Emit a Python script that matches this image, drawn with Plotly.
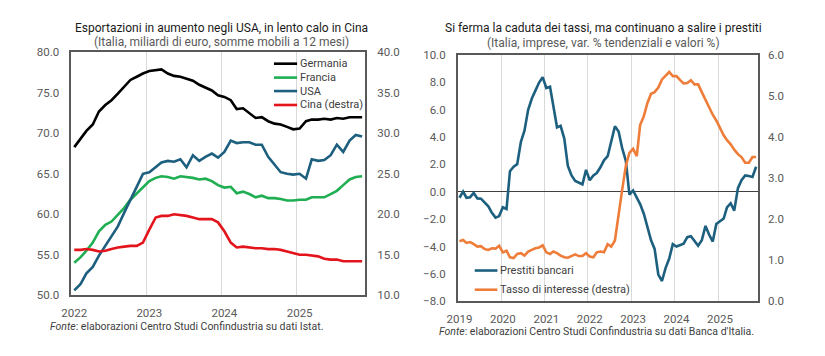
import pandas as pd
import plotly.graph_objects as go

# ---------------- data: left chart (monthly, Jan 2022 - Nov 2025) ----------------
left_start = "2022-01-01"
germania = [68.3, 69.3, 70.3, 71.1, 72.7, 73.5, 74.1, 74.9, 75.8, 76.6,
            77.0, 77.4, 77.7, 77.8, 77.9, 77.4, 77.1, 77.0, 76.8, 76.5,
            76.0, 75.7, 75.3, 74.7, 74.5, 74.1, 73.0, 73.1, 72.5, 71.9,
            72.0, 71.5, 71.2, 71.1, 70.8, 70.5, 70.6, 71.5, 71.7, 71.7,
            71.8, 71.7, 71.9, 71.8, 72.0, 72.0, 72.0]
francia = [54.0, 54.7, 55.5, 56.5, 57.9, 58.7, 59.1, 59.9, 60.8, 61.8,
           62.6, 63.4, 64.1, 64.5, 64.7, 64.6, 64.4, 64.7, 64.6, 64.5,
           64.3, 64.4, 64.1, 63.6, 63.3, 63.4, 62.6, 62.8, 62.5, 62.1,
           62.3, 62.0, 62.0, 61.9, 61.7, 61.7, 61.8, 61.8, 62.1, 62.1,
           62.1, 62.5, 62.9, 63.6, 64.3, 64.6, 64.7]
usa = [50.6, 51.4, 52.7, 53.5, 54.9, 56.1, 57.3, 58.5, 60.2, 61.8,
       63.4, 65.0, 65.2, 65.8, 66.4, 66.6, 66.5, 66.8, 65.8, 67.3,
       66.6, 67.1, 67.5, 67.0, 67.7, 69.1, 68.8, 68.9, 68.9, 68.6,
       68.6, 67.1, 66.2, 65.2, 65.0, 64.9, 65.0, 64.4, 66.8, 66.6,
       66.7, 67.3, 68.6, 67.7, 69.1, 69.8, 69.6]
cina = [15.6, 15.6, 15.7, 15.6, 15.4, 15.5, 15.7, 15.9, 16.0, 16.1,
        16.1, 16.5, 18.1, 19.6, 19.8, 19.8, 20.0, 19.9, 19.8, 19.6,
        19.4, 19.4, 19.4, 19.0, 17.9, 16.5, 15.9, 16.0, 15.9, 15.8,
        15.8, 15.7, 15.7, 15.6, 15.4, 15.2, 15.0, 15.0, 14.9, 14.8,
        14.5, 14.4, 14.4, 14.2, 14.2, 14.2, 14.2]
left_years = ["2022", "2023", "2024", "2025"]

# ---------------- data: right chart (monthly, Jan 2019 - Nov 2025) ----------------
right_start = "2019-01-01"
prestiti = [-0.44, 0.0, -0.44, -0.40, -0.09, -0.49, -0.51, -0.79, -1.07, -1.54,
            -1.89, -1.78, -1.14, -1.26, 1.50, 1.82, 2.01, 3.64, 4.46, 5.98,
            6.80, 7.38, 7.97, 8.36, 7.57, 7.66, 6.33, 4.70, 4.81, 3.88,
            1.89, 1.19, 0.79, 0.68, 0.54, 1.59, 0.84, 1.19, 1.36, 1.78,
            2.29, 2.59, 3.76, 4.77, 4.39, 3.18, 2.24, -0.21, 0.09, -0.44,
            -0.91, -1.61, -2.55, -3.55, -4.18, -6.05, -6.52, -5.58, -4.88, -3.83,
            -4.00, -3.90, -3.79, -3.32, -3.25, -3.60, -3.95, -3.55, -2.50, -3.13,
            -3.64, -2.36, -2.13, -1.96, -1.14, -0.84, -1.38, 0.26, 0.84, 1.19,
            1.14, 1.07, 1.82]
tasso = [1.46, 1.49, 1.42, 1.44, 1.39, 1.33, 1.34, 1.27, 1.25, 1.29,
         1.28, 1.35, 1.19, 1.23, 1.07, 1.05, 1.15, 1.17, 1.11, 1.21,
         1.25, 1.29, 1.31, 1.36, 1.19, 1.15, 1.21, 1.17, 1.11, 1.07,
         1.06, 1.10, 1.14, 1.10, 1.10, 1.17, 1.09, 1.07, 1.19, 1.21,
         1.19, 1.39, 1.33, 1.48, 2.05, 2.71, 3.30, 3.61, 3.71, 3.53,
         4.29, 4.50, 4.82, 5.05, 5.09, 5.20, 5.40, 5.48, 5.58, 5.48,
         5.48, 5.38, 5.30, 5.31, 5.38, 5.28, 5.28, 5.09, 4.89, 4.70,
         4.54, 4.40, 4.21, 4.04, 3.92, 3.82, 3.69, 3.58, 3.51, 3.37,
         3.37, 3.51, 3.51]
right_years = ["2019", "2020", "2021", "2022", "2023", "2024", "2025"]

# month-centred dates (category centre = mid month)
left_x = pd.date_range(left_start, periods=len(germania), freq="MS") + pd.Timedelta(days=15)
right_x = pd.date_range(right_start, periods=len(prestiti), freq="MS") + pd.Timedelta(days=15)

# ---------------- style ----------------
FONT = "Roboto, 'Noto Sans', sans-serif"
C_GER = "#000000"
C_FRA = "#1fae52"
C_USA = "#1d5f7f"
C_CIN = "#e3141c"
C_PRE = "#1d5f7f"
C_TAS = "#ef7d3a"
TICK_C = "#595959"
BORDER = "#595959"
GRID = "#d9d9d9"
LW = 2.6

W, H = 825, 356
def px(x):
    return x / W
def py(y):
    return 1 - y / H

fig = go.Figure()
fig.add_trace(go.Scatter(x=left_x, y=germania, name="Germania", mode="lines",
                         line=dict(color=C_GER, width=LW), xaxis="x", yaxis="y"))
fig.add_trace(go.Scatter(x=left_x, y=francia, name="Francia", mode="lines",
                         line=dict(color=C_FRA, width=LW), xaxis="x", yaxis="y"))
fig.add_trace(go.Scatter(x=left_x, y=usa, name="USA", mode="lines",
                         line=dict(color=C_USA, width=LW), xaxis="x", yaxis="y"))
fig.add_trace(go.Scatter(x=left_x, y=cina, name="Cina (destra)", mode="lines",
                         line=dict(color=C_CIN, width=LW), xaxis="x", yaxis="y2"))
fig.add_trace(go.Scatter(x=right_x, y=prestiti, name="Prestiti bancari", mode="lines",
                         line=dict(color=C_PRE, width=LW), xaxis="x2", yaxis="y3"))
fig.add_trace(go.Scatter(x=right_x, y=tasso, name="Tasso di interesse (destra)", mode="lines",
                         line=dict(color=C_TAS, width=LW), xaxis="x2", yaxis="y4"))

def xaxis_cfg(domain, anchor, start, years, n, ticklen):
    first = pd.Timestamp(start)
    end = first + pd.DateOffset(months=n)
    return dict(
        domain=domain, anchor=anchor, type="date",
        range=[first, end],
        tickmode="array",
        tickvals=[pd.Timestamp(f"{y}-01-16") for y in years],
        ticktext=years,
        ticks="outside", ticklen=ticklen, tickcolor="rgba(0,0,0,0)",
        showgrid=False, zeroline=False,
        showline=True, mirror=True, linecolor=BORDER, linewidth=1.5,
        tickfont=dict(family=FONT, size=11.5, color=TICK_C),
        minor=dict(tickmode="array",
                   tickvals=[pd.Timestamp(f"{y}-01-01") for y in years[1:]],
                   showgrid=True, gridcolor=GRID, gridwidth=1,
                   ticklen=0, tickcolor="rgba(0,0,0,0)"),
        fixedrange=True,
    )

def yaxis_cfg(domain, anchor, rng, dtick, side, ticklen, overlaying=None):
    d = dict(
        domain=domain, anchor=anchor, range=rng, dtick=dtick, tick0=rng[0],
        tickformat=".1f", side=side,
        ticks="outside", ticklen=ticklen, tickcolor="rgba(0,0,0,0)",
        showgrid=False, zeroline=False,
        showline=True, linecolor=BORDER, linewidth=1.5,
        tickfont=dict(family=FONT, size=11.5, color=TICK_C),
        fixedrange=True,
    )
    if overlaying:
        d["overlaying"] = overlaying
        d.pop("domain")
    return d

L_dom_x = [px(61), px(359)]
L_dom_y = [py(300), py(47.3)]
R_dom_x = [px(452.7), px(757)]
R_dom_y = [py(306.3), py(49.7)]

y3 = yaxis_cfg(R_dom_y, "x2", [-8, 10], 2, "left", 8)
y3.update(zeroline=True, zerolinecolor="#404040", zerolinewidth=1.2)

fig.update_layout(
    autosize=True,
    margin=dict(l=0, r=0, t=0, b=0),
    paper_bgcolor="white", plot_bgcolor="white",
    showlegend=False,
    font=dict(family=FONT, color="#404040"),
    xaxis=xaxis_cfg(L_dom_x, "y", left_start, left_years, len(germania), 6),
    yaxis=yaxis_cfg(L_dom_y, "x", [50, 80], 5, "left", 8),
    yaxis2=yaxis_cfg(None, "x", [10, 40], 5, "right", 8, overlaying="y"),
    xaxis2=xaxis_cfg(R_dom_x, "y3", right_start, right_years, len(prestiti), 6),
    yaxis3=y3,
    yaxis4=yaxis_cfg(None, "x2", [0, 6], 1, "right", 6, overlaying="y3"),
)

ann = []
def text(x, y, s, size, color, xanchor="center"):
    ann.append(dict(x=px(x), y=py(y), xref="paper", yref="paper", text=s,
                    showarrow=False, xanchor=xanchor, yanchor="middle",
                    font=dict(family=FONT, size=size, color=color)))

# titles
text(213, 21.5, "Esportazioni in aumento negli USA, in lento calo in Cina", 12, "#1a1a1a")
text(213.5, 36, "(Italia, miliardi di euro, somme mobili a 12 mesi)", 12, "#595959")
text(600.5, 21.5, "Si ferma la caduta dei tassi, ma continuano a salire i prestiti", 12, "#1a1a1a")
text(601, 37, "(Italia, imprese, var. % tendenziali e valori %)", 12, "#595959")

# sources
text(38, 333, "<i>Fonte</i>: elaborazioni Centro Studi Confindustria su dati Istat.", 10.5, "#404040", "left")
text(432, 337.5, "<i>Fonte</i>: elaborazioni Centro Studi Confindustria su dati Banca d'Italia.", 10.5, "#404040", "left")

# manual legends
shapes = []
def legend_item(x0, x1, y, color, label):
    shapes.append(dict(type="line", xref="paper", yref="paper",
                       x0=px(x0), x1=px(x1), y0=py(y), y1=py(y),
                       line=dict(color=color, width=LW)))
    text(x1 + 0.5, y, label, 11, "#404040", "left")

legend_item(266.5, 290, 59, C_GER, "Germania")
legend_item(266.5, 290, 73.5, C_FRA, "Francia")
legend_item(266.5, 290, 87.5, C_USA, "USA")
legend_item(266.5, 290, 102, C_CIN, "Cina (destra)")
legend_item(470, 493, 274.3, C_PRE, "Prestiti bancari")
legend_item(470, 493, 294.3, C_TAS, "Tasso di interesse (destra)")

fig.update_layout(annotations=ann, shapes=shapes)

post = ("document.documentElement.style.margin='0';"
        "document.documentElement.style.overflow='hidden';"
        "document.body.style.margin='0';"
        "document.body.style.overflow='hidden';"
        "var gd=document.getElementById('{plot_id}');"
        "Plotly.Plots.resize(gd);")

fig.write_html("out.html", config={"displayModeBar": False, "responsive": True},
               default_width="100vw", default_height="100vh",
               post_script=post)
